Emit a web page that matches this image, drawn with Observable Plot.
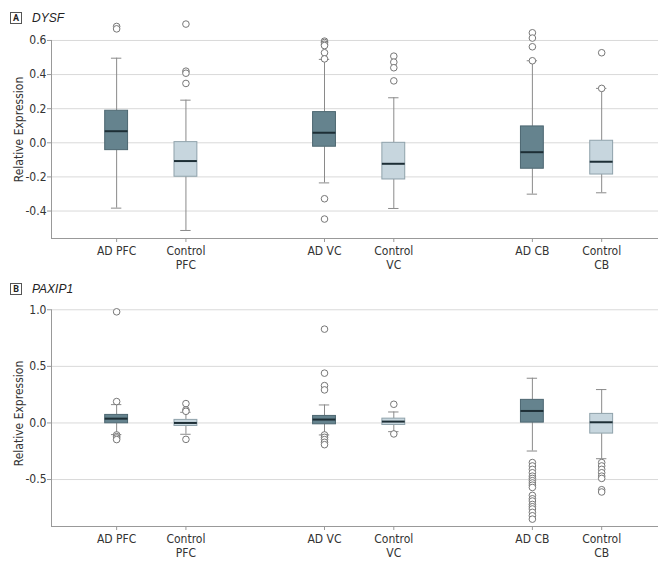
<!DOCTYPE html>
<html>
<head>
<meta charset="utf-8">
<script src="https://cdn.jsdelivr.net/npm/d3@7"></script>
<script src="https://cdn.jsdelivr.net/npm/@observablehq/plot@0.6"></script>
<style>
  html, body { margin: 0; padding: 0; background: #fff; }
  #wrap { position: relative; width: 667px; height: 565px; font-family: "Liberation Sans Narrow", "DejaVu Sans Condensed", Roboto, sans-serif; }
  .panel { position: absolute; left: 0; }
  .hdr { position: absolute; left: 10px; display: flex; align-items: center; z-index: 2; }
  .box { width: 10px; height: 10px; border: 1px solid #555; font-weight: bold; font-size: 9px; font-family: Roboto, sans-serif; display: flex; align-items: center; justify-content: center; color: #222; }
  .gene { font-style: italic; font-size: 12px; margin-left: 10px; color: #222; font-family: "Liberation Sans", Roboto, sans-serif; }
</style>
</head>
<body>
<div id="wrap">
  <div class="hdr" style="top:11px"><div class="box">A</div><div class="gene">DYSF</div></div>
  <div class="hdr" style="top:282px"><div class="box">B</div><div class="gene">PAXIP1</div></div>
  <div class="panel" id="pA" style="top:0px"></div>
  <div class="panel" id="pB" style="top:272px"></div>
</div>
<script>
// ---- data ----
const categories = ["AD PFC", "Control\nPFC", "AD VC", "Control\nVC", "AD CB", "Control\nCB"];
const slots = [0, 1, 3, 4, 6, 7];
const groups = ["AD", "Control", "AD", "Control", "AD", "Control"];

// Panel A: DYSF
const dysfLow    = [-0.383, -0.514, -0.235, -0.385, -0.301, -0.293];
const dysfQ1     = [-0.043, -0.199, -0.023, -0.215, -0.152, -0.186];
const dysfMedian = [ 0.068, -0.107,  0.059, -0.123, -0.055, -0.111];
const dysfQ3     = [ 0.188,  0.004,  0.180,  0.000,  0.096,  0.012];
const dysfHigh   = [ 0.496,  0.250,  0.489,  0.264,  0.481,  0.319];
const dysfOutliers = [
  [0.682, 0.668],
  [0.696, 0.420, 0.408, 0.348],
  [0.596, 0.588, 0.578, 0.570, 0.528, 0.492, -0.328, -0.447],
  [0.508, 0.473, 0.440, 0.363],
  [0.645, 0.614, 0.563, 0.481],
  [0.528, 0.319]
];
const dysfTicks = [-0.4, -0.2, 0, 0.2, 0.4, 0.6];

// Panel B: PAXIP1
const paxLow    = [-0.103, -0.100, -0.106, -0.077, -0.248, -0.316];
const paxQ1     = [-0.003, -0.027, -0.012, -0.018,  0.003, -0.094];
const paxMedian = [ 0.038,  0.000,  0.030,  0.012,  0.106,  0.006];
const paxQ3     = [ 0.071,  0.027,  0.062,  0.038,  0.204,  0.080];
const paxHigh   = [ 0.162,  0.094,  0.159,  0.097,  0.395,  0.295];
const paxOutliers = [
  [0.982, 0.189, -0.106, -0.121, -0.133, -0.147],
  [0.171, 0.115, 0.103, -0.145],
  [0.829, 0.440, 0.330, 0.292, -0.106, -0.127, -0.147, -0.171, -0.192],
  [0.165, -0.097],
  [-0.35, -0.38, -0.41, -0.44, -0.47, -0.49, -0.51, -0.53, -0.55, -0.57,
   -0.64, -0.67, -0.69, -0.72, -0.74, -0.76, -0.79, -0.82, -0.85],
  [-0.35, -0.38, -0.41, -0.44, -0.47, -0.49, -0.59, -0.61]
];
const paxTicks = [-0.5, 0, 0.5, 1.0];

// ---- drawing ----
const fills = {AD: "#65838e", Control: "#c7d6de"};
const strokes = {AD: "#4d6771", Control: "#8fa2ab"};
const fontFamily = '"Liberation Sans Narrow", "DejaVu Sans Condensed", Roboto, sans-serif';
const xDomain = [-0.94, 7.82];
const halfBox = 0.165, halfCap = 0.075;

function panel({low, q1, med, q3, high, outliers, ticks, yDomain, height, marginTop, marginBottom}) {
  const rows = slots.map((s, i) => ({slot: s, group: groups[i], lo: low[i], q1: q1[i], med: med[i], q3: q3[i], hi: high[i]}));
  const pts = outliers.flatMap((arr, i) => arr.map(v => ({slot: slots[i], value: v})));
  const labelOf = new Map(slots.map((s, i) => [s, categories[i]]));
  return Plot.plot({
    width: 667,
    height,
    marginLeft: 51,
    marginRight: 9,
    marginTop,
    marginBottom,
    style: {fontFamily, fontSize: "12px", color: "#333", background: "white"},
    x: {domain: xDomain},
    y: {domain: yDomain},
    marks: [
      Plot.gridY(ticks, {stroke: "#d9d9d9", strokeOpacity: 1}),
      Plot.ruleY([yDomain[0]], {stroke: "#999"}),
      Plot.ruleX([xDomain[0]], {y1: yDomain[0], y2: ticks[ticks.length - 1], stroke: "#999"}),
      Plot.axisY({ticks, tickFormat: d => d.toFixed(1), tickSize: 4, tickPadding: 1, stroke: "#999", label: "Relative Expression", labelAnchor: "center", labelArrow: "none", labelOffset: 37, fontSize: 12}),
      Plot.axisX({ticks: slots, tickFormat: d => labelOf.get(d), tickSize: 4, tickPadding: 3, stroke: "#999", label: null, lineHeight: 1.15, fontSize: 12}),
      Plot.ruleX(rows, {x: "slot", y1: "lo", y2: "q1", stroke: "#8a8a8a"}),
      Plot.ruleX(rows, {x: "slot", y1: "q3", y2: "hi", stroke: "#8a8a8a"}),
      Plot.ruleY(rows, {y: "lo", x1: d => d.slot - halfCap, x2: d => d.slot + halfCap, stroke: "#8a8a8a"}),
      Plot.ruleY(rows, {y: "hi", x1: d => d.slot - halfCap, x2: d => d.slot + halfCap, stroke: "#8a8a8a"}),
      Plot.rect(rows, {x1: d => d.slot - halfBox, x2: d => d.slot + halfBox, y1: "q1", y2: "q3", fill: d => fills[d.group], stroke: d => strokes[d.group], strokeWidth: 1}),
      Plot.ruleY(rows, {y: "med", x1: d => d.slot - halfBox, x2: d => d.slot + halfBox, stroke: "#1d2e35", strokeWidth: 2}),
      Plot.dot(pts, {x: "slot", y: "value", r: 3.3, stroke: "#777", strokeWidth: 1, fill: "white"})
    ]
  });
}

document.getElementById("pA").appendChild(panel({
  low: dysfLow, q1: dysfQ1, med: dysfMedian, q3: dysfQ3, high: dysfHigh, outliers: dysfOutliers,
  ticks: dysfTicks, yDomain: [-0.561, 0.717], height: 272, marginTop: 20, marginBottom: 34
}));
document.getElementById("pB").appendChild(panel({
  low: paxLow, q1: paxQ1, med: paxMedian, q3: paxQ3, high: paxHigh, outliers: paxOutliers,
  ticks: paxTicks, yDomain: [-0.915, 1.082], height: 293, marginTop: 28, marginBottom: 39
}));
</script>
</body>
</html>
